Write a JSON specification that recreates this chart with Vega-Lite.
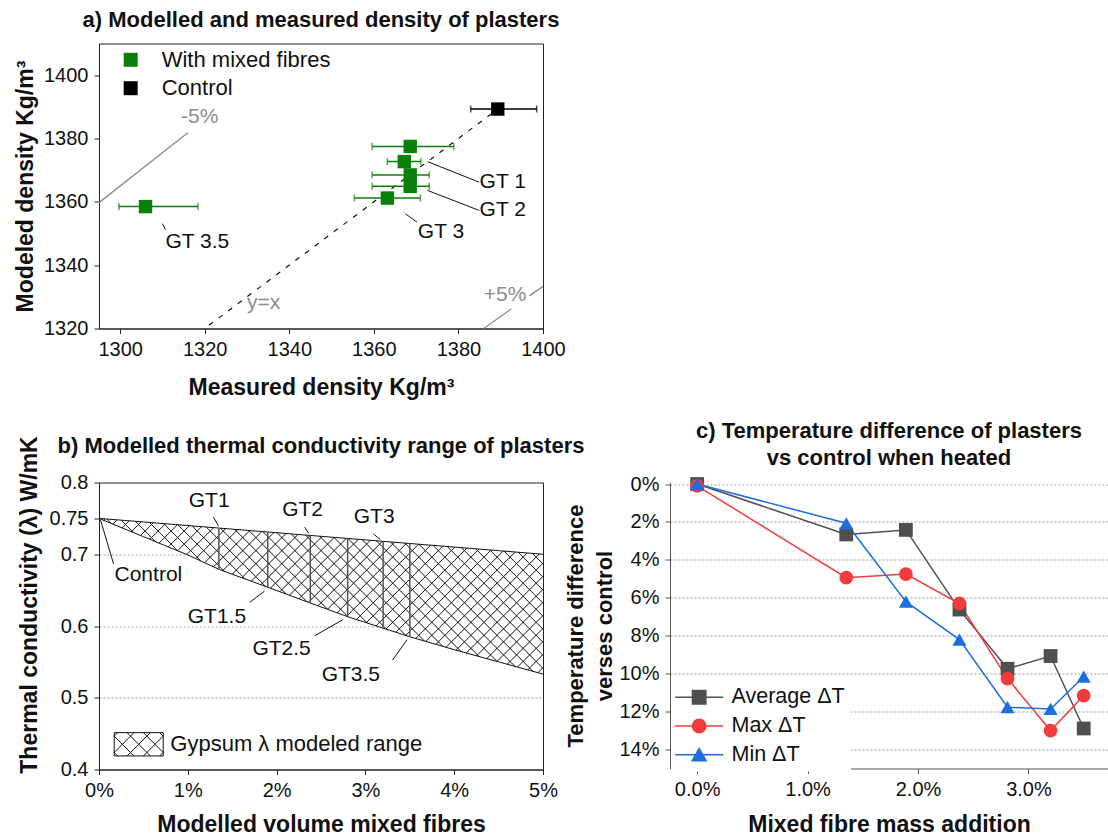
{
  "$schema": "https://vega.github.io/schema/vega-lite/v6.json",
  "background": "white",
  "padding": {"left": 13, "top": 8.5, "right": 0, "bottom": 0},
  "config": {
    "font": "Liberation Sans",
    "view": {"stroke": "#222", "strokeWidth": 1},
    "axis": {"labelFont": "Liberation Sans", "labelFontSize": 20, "labelColor": "#111", "titleFont": "Liberation Sans", "titleFontSize": 23, "titleFontWeight": "bold", "titleColor": "#111", "domainColor": "#222", "tickColor": "#222", "tickSize": 5, "labelPadding": 6, "grid": false, "labelFlush": false, "labelOverlap": false},
    "title": {"font": "Liberation Sans", "fontSize": 22, "fontWeight": "bold", "color": "#111", "baseline": "bottom"},
    "legend": {"labelFont": "Liberation Sans", "labelFontSize": 22, "labelColor": "#111", "labelLimit": 400}
  },
  "datasets": {
    "density": [
      {"group": "With mixed fibres", "measured": 1368.6, "modeled": 1377.5, "lo": 1359.6, "hi": 1378.9},
      {"group": "With mixed fibres", "measured": 1367.2, "modeled": 1372.7, "lo": 1363.2, "hi": 1371.1},
      {"group": "With mixed fibres", "measured": 1368.6, "modeled": 1368.5, "lo": 1359.6, "hi": 1373.1},
      {"group": "With mixed fibres", "measured": 1368.6, "modeled": 1364.9, "lo": 1359.6, "hi": 1373.1},
      {"group": "With mixed fibres", "measured": 1363.2, "modeled": 1361.2, "lo": 1355.4, "hi": 1371.0},
      {"group": "With mixed fibres", "measured": 1306.0, "modeled": 1358.5, "lo": 1299.7, "hi": 1318.4},
      {"group": "Control", "measured": 1389.3, "modeled": 1389.3, "lo": 1382.9, "hi": 1398.5}
    ],
    "densityLines": [
      {"kind": "y=x", "measured": 1321, "modeled": 1321, "measured2": 1388, "modeled2": 1388},
      {"kind": "-5%", "measured": 1295, "modeled": 1359.75, "measured2": 1316, "modeled2": 1381.8},
      {"kind": "+5%", "measured": 1386.0, "modeled": 1320, "measured2": 1392.5, "modeled2": 1326.2},
      {"kind": "+5%", "measured": 1396.8, "modeled": 1330.3, "measured2": 1400, "modeled2": 1333.3},
      {"kind": "leader", "measured": 1372.7, "modeled": 1372.7, "measured2": 1384.9, "modeled2": 1366.2},
      {"kind": "leader", "measured": 1372.7, "modeled": 1363.6, "measured2": 1384.9, "modeled2": 1357.3},
      {"kind": "leader", "measured": 1367.5, "modeled": 1356.2, "measured2": 1370.2, "modeled2": 1353.6},
      {"kind": "leader", "measured": 1310.0, "modeled": 1353.1, "measured2": 1310.7, "modeled2": 1351.2}
    ],
    "densityLabels": [
      {"text": "GT 1", "kind": "sample", "measured": 1385.0, "modeled": 1366.2},
      {"text": "GT 2", "kind": "sample", "measured": 1385.0, "modeled": 1357.3},
      {"text": "GT 3", "kind": "sample", "measured": 1370.4, "modeled": 1350.4},
      {"text": "GT 3.5", "kind": "sample", "measured": 1310.7, "modeled": 1347.3},
      {"text": "-5%", "kind": "guide", "measured": 1314.4, "modeled": 1386.7},
      {"text": "+5%", "kind": "guide", "measured": 1386.0, "modeled": 1330.5},
      {"text": "y=x", "kind": "guide", "measured": 1330.0, "modeled": 1327.9}
    ],
    "conductivity": [
      {"x": 0, "lower": 0.75, "upper": 0.75},
      {"x": 0.005, "lower": 0.7245, "upper": 0.745},
      {"x": 0.01, "lower": 0.699, "upper": 0.74},
      {"x": 0.0135, "lower": 0.679, "upper": 0.7365, "sample": "GT1"},
      {"x": 0.019, "lower": 0.654, "upper": 0.731, "sample": "GT1.5"},
      {"x": 0.0238, "lower": 0.632, "upper": 0.7262, "sample": "GT2"},
      {"x": 0.028, "lower": 0.613, "upper": 0.722, "sample": "GT2.5"},
      {"x": 0.032, "lower": 0.597, "upper": 0.718, "sample": "GT3"},
      {"x": 0.035, "lower": 0.585, "upper": 0.715, "sample": "GT3.5"},
      {"x": 0.04, "lower": 0.567, "upper": 0.71},
      {"x": 0.045, "lower": 0.55, "upper": 0.705},
      {"x": 0.05, "lower": 0.533, "upper": 0.70}
    ],
    "condLeaders": [
      {"x": 0.01289, "y": 0.7516, "x2": 0.01345, "y2": 0.7395},
      {"x": 0.02315, "y": 0.7377, "x2": 0.02362, "y2": 0.7293},
      {"x": 0.0309, "y": 0.7284, "x2": 0.03168, "y2": 0.7205},
      {"x": 0.00017, "y": 0.7479, "x2": 0.00164, "y2": 0.6865},
      {"x": 0.01698, "y": 0.633, "x2": 0.01862, "y2": 0.6484},
      {"x": 0.02431, "y": 0.5865, "x2": 0.02746, "y2": 0.6088},
      {"x": 0.03306, "y": 0.5526, "x2": 0.0347, "y2": 0.5809}
    ],
    "condLabels": [
      {"text": "GT1", "x": 0.01241, "y": 0.7749},
      {"text": "GT2", "x": 0.02293, "y": 0.7619},
      {"text": "GT3", "x": 0.03099, "y": 0.7526},
      {"text": "Control", "x": 0.00556, "y": 0.6712},
      {"text": "GT1.5", "x": 0.01328, "y": 0.613},
      {"text": "GT2.5", "x": 0.02056, "y": 0.5679},
      {"text": "GT3.5", "x": 0.02836, "y": 0.532}
    ],
    "tempdiff": [
      {"series": "Average ΔT", "mass": 0, "dT": 0},
      {"series": "Average ΔT", "mass": 0.0135, "dT": 0.0266},
      {"series": "Average ΔT", "mass": 0.0189, "dT": 0.0242},
      {"series": "Average ΔT", "mass": 0.02375, "dT": 0.0662},
      {"series": "Average ΔT", "mass": 0.0281, "dT": 0.0974},
      {"series": "Average ΔT", "mass": 0.032, "dT": 0.0907},
      {"series": "Average ΔT", "mass": 0.035, "dT": 0.1289},
      {"series": "Max ΔT", "mass": 0, "dT": 0.001},
      {"series": "Max ΔT", "mass": 0.0135, "dT": 0.0494},
      {"series": "Max ΔT", "mass": 0.0189, "dT": 0.0475},
      {"series": "Max ΔT", "mass": 0.02375, "dT": 0.063},
      {"series": "Max ΔT", "mass": 0.0281, "dT": 0.1026},
      {"series": "Max ΔT", "mass": 0.032, "dT": 0.130},
      {"series": "Max ΔT", "mass": 0.035, "dT": 0.1116},
      {"series": "Min ΔT", "mass": 0, "dT": 0},
      {"series": "Min ΔT", "mass": 0.0135, "dT": 0.0207},
      {"series": "Min ΔT", "mass": 0.0189, "dT": 0.062},
      {"series": "Min ΔT", "mass": 0.02375, "dT": 0.082},
      {"series": "Min ΔT", "mass": 0.0281, "dT": 0.1177},
      {"series": "Min ΔT", "mass": 0.032, "dT": 0.1186},
      {"series": "Min ΔT", "mass": 0.035, "dT": 0.1016}
    ]
  },
  "bounds": "flush",
  "spacing": 154,
  "resolve": {"scale": {"color": "independent", "shape": "independent", "stroke": "independent"}, "legend": {"color": "independent", "shape": "independent", "stroke": "independent"}},
  "vconcat": [
    {
      "width": 444,
      "height": 285,
      "title": {"text": "a) Modelled and measured density of plasters", "offset": 11.5},
      "encoding": {
        "x": {"field": "measured", "type": "quantitative", "scale": {"domain": [1295, 1400]},
              "axis": {"values": [1300, 1320, 1340, 1360, 1380, 1400], "format": "d", "title": "Measured density Kg/m³", "titleY": 48}},
        "y": {"field": "modeled", "type": "quantitative", "scale": {"domain": [1320, 1410]},
              "axis": {"values": [1320, 1340, 1360, 1380, 1400], "format": "d", "title": "Modeled density Kg/m³", "titleX": -62, "titleBaseline": "bottom"}}
      },
      "layer": [
        {
          "data": {"name": "densityLines"},
          "transform": [{"filter": "datum.kind === '-5%' || datum.kind === '+5%'"}],
          "mark": {"type": "rule", "color": "#8c8c8c", "strokeWidth": 1.3},
          "encoding": {"x2": {"field": "measured2"}, "y2": {"field": "modeled2"}}
        },
        {
          "data": {"name": "densityLines"},
          "transform": [{"filter": "datum.kind === 'y=x'"}],
          "mark": {"type": "rule", "color": "#111", "strokeWidth": 1.2, "strokeDash": [5, 7]},
          "encoding": {"x2": {"field": "measured2"}, "y2": {"field": "modeled2"}}
        },
        {
          "data": {"name": "densityLines"},
          "transform": [{"filter": "datum.kind === 'leader'"}],
          "mark": {"type": "rule", "color": "#111", "strokeWidth": 1},
          "encoding": {"x2": {"field": "measured2"}, "y2": {"field": "modeled2"}}
        },
        {
          "data": {"name": "density"},
          "mark": {"type": "errorbar", "ticks": true, "size": 7, "thickness": 1.5},
          "encoding": {
            "x": {"field": "lo", "type": "quantitative"},
            "x2": {"field": "hi"},
            "color": {"field": "group", "type": "nominal"}
          }
        },
        {
          "data": {"name": "density"},
          "mark": {"type": "square", "size": 180, "opacity": 1},
          "encoding": {
            "color": {"field": "group", "type": "nominal",
                      "scale": {"domain": ["With mixed fibres", "Control"], "range": ["#0a800a", "#000000"]},
                      "legend": {"title": null, "orient": "none", "legendX": 20.7, "legendY": 5.3, "padding": 0, "symbolType": "square", "symbolSize": 196, "labelFontSize": 22, "labelOffset": 20, "rowPadding": 6.4,
                                 "encoding": {"symbols": {"shape": {"value": "square"}, "strokeWidth": {"value": 0}, "opacity": {"value": 1}}}}}
          }
        },
        {
          "data": {"name": "densityLabels"},
          "transform": [{"filter": "datum.kind === 'sample'"}],
          "mark": {"type": "text", "align": "left", "baseline": "middle", "fontSize": 21, "color": "#111"},
          "encoding": {"text": {"field": "text"}}
        },
        {
          "data": {"name": "densityLabels"},
          "transform": [{"filter": "datum.kind === 'guide'"}],
          "mark": {"type": "text", "align": "left", "baseline": "middle", "fontSize": 21, "color": "#8c8c8c"},
          "encoding": {"text": {"field": "text"}}
        }
      ]
    },
    {
      "bounds": "flush",
      "spacing": 127,
      "resolve": {"scale": {"color": "independent", "shape": "independent", "stroke": "independent"}, "legend": {"color": "independent", "shape": "independent", "stroke": "independent"}},
      "hconcat": [
        {
          "width": 444,
          "height": 287,
          "title": {"text": "b) Modelled thermal conductivity range of plasters", "offset": -25.5},
          "encoding": {
            "x": {"field": "x", "type": "quantitative", "scale": {"domain": [0, 0.05]},
                  "axis": {"values": [0, 0.01, 0.02, 0.03, 0.04, 0.05], "format": ".0%", "title": "Modelled volume mixed fibres", "titleY": 44}},
            "y": {"field": "lower", "type": "quantitative", "scale": {"domain": [0.4, 0.8]},
                  "axis": {"values": [0.4, 0.5, 0.6, 0.7, 0.75, 0.8], "format": ".2~f", "title": "Thermal conductivity (λ)  W/mK", "titleX": -58, "titleY": 122, "titleBaseline": "bottom",
                           "grid": true, "gridDash": [2, 2], "gridColor": {"condition": {"test": "datum.value === 0.75", "value": "transparent"}, "value": "#999"}}}
          },
          "layer": [
            {
              "data": {"values": [{}]},
              "mark": {"type": "rule", "color": "#f5c8c8", "strokeWidth": 1},
              "encoding": {"x": {"datum": 0}, "x2": {"datum": 0.05}, "y": {"datum": 0.533}}
            },
            {
              "data": {"name": "conductivity"},
              "mark": {"type": "area"},
              "encoding": {
                "y2": {"field": "upper"},
                "color": {"datum": "Gypsum λ modeled range", "scale": {"range": ["#ffffff"]},
                          "legend": {"title": null, "orient": "none", "legendX": 14.7, "legendY": 236.8, "padding": 0, "symbolSize": 2401, "labelFontSize": 22, "labelOffset": 6.6, "labelLimit": 400,
                                     "symbolType": "M-1,-0.4755H1V0.4755H-1Z M-1,0.333L-0.858,0.4755 M-1,-0.333L-0.191,0.4755 M-0.4755,-0.4755L0.4755,0.4755 M0.191,-0.4755L1,0.333 M0.858,-0.4755L1,-0.333 M-1,-0.333L-0.858,-0.4755 M-1,0.333L-0.191,-0.4755 M-0.4755,0.4755L0.4755,-0.4755 M0.191,0.4755L1,-0.333 M0.858,0.4755L1,0.333",
                                     "encoding": {"symbols": {"fill": {"value": "#ffffff"}, "stroke": {"value": "#111"}, "strokeWidth": {"value": 1}, "opacity": {"value": 1}}}}}
              }
            },
            {
              "data": {"name": "conductivity"},
              "mark": {"type": "area", "stroke": null, "fill": {"gradient": "linear", "x1": 0, "y1": 0, "x2": 1.2028, "y2": 0.4218, "stops": [
                {"offset": 0, "color": "transparent"},
                {"offset": 0.0092, "color": "transparent"}, {"offset": 0.0109, "color": "#222"}, {"offset": 0.0126, "color": "transparent"},
                {"offset": 0.0309, "color": "transparent"}, {"offset": 0.0326, "color": "#222"}, {"offset": 0.0343, "color": "transparent"},
                {"offset": 0.0527, "color": "transparent"}, {"offset": 0.0544, "color": "#222"}, {"offset": 0.0561, "color": "transparent"},
                {"offset": 0.0744, "color": "transparent"}, {"offset": 0.0761, "color": "#222"}, {"offset": 0.0778, "color": "transparent"},
                {"offset": 0.0961, "color": "transparent"}, {"offset": 0.0978, "color": "#222"}, {"offset": 0.0995, "color": "transparent"},
                {"offset": 0.1179, "color": "transparent"}, {"offset": 0.1196, "color": "#222"}, {"offset": 0.1213, "color": "transparent"},
                {"offset": 0.1396, "color": "transparent"}, {"offset": 0.1413, "color": "#222"}, {"offset": 0.1430, "color": "transparent"},
                {"offset": 0.1613, "color": "transparent"}, {"offset": 0.1630, "color": "#222"}, {"offset": 0.1647, "color": "transparent"},
                {"offset": 0.1831, "color": "transparent"}, {"offset": 0.1848, "color": "#222"}, {"offset": 0.1865, "color": "transparent"},
                {"offset": 0.2048, "color": "transparent"}, {"offset": 0.2065, "color": "#222"}, {"offset": 0.2082, "color": "transparent"},
                {"offset": 0.2266, "color": "transparent"}, {"offset": 0.2283, "color": "#222"}, {"offset": 0.2300, "color": "transparent"},
                {"offset": 0.2483, "color": "transparent"}, {"offset": 0.2500, "color": "#222"}, {"offset": 0.2517, "color": "transparent"},
                {"offset": 0.2700, "color": "transparent"}, {"offset": 0.2717, "color": "#222"}, {"offset": 0.2734, "color": "transparent"},
                {"offset": 0.2918, "color": "transparent"}, {"offset": 0.2935, "color": "#222"}, {"offset": 0.2952, "color": "transparent"},
                {"offset": 0.3135, "color": "transparent"}, {"offset": 0.3152, "color": "#222"}, {"offset": 0.3169, "color": "transparent"},
                {"offset": 0.3353, "color": "transparent"}, {"offset": 0.3370, "color": "#222"}, {"offset": 0.3387, "color": "transparent"},
                {"offset": 0.3570, "color": "transparent"}, {"offset": 0.3587, "color": "#222"}, {"offset": 0.3604, "color": "transparent"},
                {"offset": 0.3787, "color": "transparent"}, {"offset": 0.3804, "color": "#222"}, {"offset": 0.3821, "color": "transparent"},
                {"offset": 0.4005, "color": "transparent"}, {"offset": 0.4022, "color": "#222"}, {"offset": 0.4039, "color": "transparent"},
                {"offset": 0.4222, "color": "transparent"}, {"offset": 0.4239, "color": "#222"}, {"offset": 0.4256, "color": "transparent"},
                {"offset": 0.4440, "color": "transparent"}, {"offset": 0.4457, "color": "#222"}, {"offset": 0.4474, "color": "transparent"},
                {"offset": 0.4657, "color": "transparent"}, {"offset": 0.4674, "color": "#222"}, {"offset": 0.4691, "color": "transparent"},
                {"offset": 0.4874, "color": "transparent"}, {"offset": 0.4891, "color": "#222"}, {"offset": 0.4908, "color": "transparent"},
                {"offset": 0.5092, "color": "transparent"}, {"offset": 0.5109, "color": "#222"}, {"offset": 0.5126, "color": "transparent"},
                {"offset": 0.5309, "color": "transparent"}, {"offset": 0.5326, "color": "#222"}, {"offset": 0.5343, "color": "transparent"},
                {"offset": 0.5526, "color": "transparent"}, {"offset": 0.5543, "color": "#222"}, {"offset": 0.5560, "color": "transparent"},
                {"offset": 0.5744, "color": "transparent"}, {"offset": 0.5761, "color": "#222"}, {"offset": 0.5778, "color": "transparent"},
                {"offset": 0.5961, "color": "transparent"}, {"offset": 0.5978, "color": "#222"}, {"offset": 0.5995, "color": "transparent"},
                {"offset": 0.6179, "color": "transparent"}, {"offset": 0.6196, "color": "#222"}, {"offset": 0.6213, "color": "transparent"},
                {"offset": 0.6396, "color": "transparent"}, {"offset": 0.6413, "color": "#222"}, {"offset": 0.6430, "color": "transparent"},
                {"offset": 0.6613, "color": "transparent"}, {"offset": 0.6630, "color": "#222"}, {"offset": 0.6647, "color": "transparent"},
                {"offset": 0.6831, "color": "transparent"}, {"offset": 0.6848, "color": "#222"}, {"offset": 0.6865, "color": "transparent"},
                {"offset": 0.7048, "color": "transparent"}, {"offset": 0.7065, "color": "#222"}, {"offset": 0.7082, "color": "transparent"},
                {"offset": 0.7266, "color": "transparent"}, {"offset": 0.7283, "color": "#222"}, {"offset": 0.7300, "color": "transparent"},
                {"offset": 0.7483, "color": "transparent"}, {"offset": 0.7500, "color": "#222"}, {"offset": 0.7517, "color": "transparent"},
                {"offset": 0.7700, "color": "transparent"}, {"offset": 0.7717, "color": "#222"}, {"offset": 0.7734, "color": "transparent"},
                {"offset": 0.7918, "color": "transparent"}, {"offset": 0.7935, "color": "#222"}, {"offset": 0.7952, "color": "transparent"},
                {"offset": 0.8135, "color": "transparent"}, {"offset": 0.8152, "color": "#222"}, {"offset": 0.8169, "color": "transparent"},
                {"offset": 0.8353, "color": "transparent"}, {"offset": 0.8370, "color": "#222"}, {"offset": 0.8387, "color": "transparent"},
                {"offset": 0.8570, "color": "transparent"}, {"offset": 0.8587, "color": "#222"}, {"offset": 0.8604, "color": "transparent"},
                {"offset": 0.8787, "color": "transparent"}, {"offset": 0.8804, "color": "#222"}, {"offset": 0.8821, "color": "transparent"},
                {"offset": 0.9005, "color": "transparent"}, {"offset": 0.9022, "color": "#222"}, {"offset": 0.9039, "color": "transparent"},
                {"offset": 0.9222, "color": "transparent"}, {"offset": 0.9239, "color": "#222"}, {"offset": 0.9256, "color": "transparent"},
                {"offset": 0.9440, "color": "transparent"}, {"offset": 0.9457, "color": "#222"}, {"offset": 0.9474, "color": "transparent"},
                {"offset": 0.9657, "color": "transparent"}, {"offset": 0.9674, "color": "#222"}, {"offset": 0.9691, "color": "transparent"},
                {"offset": 0.9874, "color": "transparent"}, {"offset": 0.9891, "color": "#222"}, {"offset": 0.9908, "color": "transparent"},
                {"offset": 1, "color": "transparent"}]}},
              "encoding": {"y2": {"field": "upper"}}
            },
            {
              "data": {"name": "conductivity"},
              "mark": {"type": "area", "stroke": null, "fill": {"gradient": "linear", "x1": 0, "y1": 1, "x2": 1.2028, "y2": 0.5782, "stops": [
                {"offset": 0, "color": "transparent"},
                {"offset": 0.0092, "color": "transparent"}, {"offset": 0.0109, "color": "#222"}, {"offset": 0.0126, "color": "transparent"},
                {"offset": 0.0309, "color": "transparent"}, {"offset": 0.0326, "color": "#222"}, {"offset": 0.0343, "color": "transparent"},
                {"offset": 0.0527, "color": "transparent"}, {"offset": 0.0544, "color": "#222"}, {"offset": 0.0561, "color": "transparent"},
                {"offset": 0.0744, "color": "transparent"}, {"offset": 0.0761, "color": "#222"}, {"offset": 0.0778, "color": "transparent"},
                {"offset": 0.0961, "color": "transparent"}, {"offset": 0.0978, "color": "#222"}, {"offset": 0.0995, "color": "transparent"},
                {"offset": 0.1179, "color": "transparent"}, {"offset": 0.1196, "color": "#222"}, {"offset": 0.1213, "color": "transparent"},
                {"offset": 0.1396, "color": "transparent"}, {"offset": 0.1413, "color": "#222"}, {"offset": 0.1430, "color": "transparent"},
                {"offset": 0.1613, "color": "transparent"}, {"offset": 0.1630, "color": "#222"}, {"offset": 0.1647, "color": "transparent"},
                {"offset": 0.1831, "color": "transparent"}, {"offset": 0.1848, "color": "#222"}, {"offset": 0.1865, "color": "transparent"},
                {"offset": 0.2048, "color": "transparent"}, {"offset": 0.2065, "color": "#222"}, {"offset": 0.2082, "color": "transparent"},
                {"offset": 0.2266, "color": "transparent"}, {"offset": 0.2283, "color": "#222"}, {"offset": 0.2300, "color": "transparent"},
                {"offset": 0.2483, "color": "transparent"}, {"offset": 0.2500, "color": "#222"}, {"offset": 0.2517, "color": "transparent"},
                {"offset": 0.2700, "color": "transparent"}, {"offset": 0.2717, "color": "#222"}, {"offset": 0.2734, "color": "transparent"},
                {"offset": 0.2918, "color": "transparent"}, {"offset": 0.2935, "color": "#222"}, {"offset": 0.2952, "color": "transparent"},
                {"offset": 0.3135, "color": "transparent"}, {"offset": 0.3152, "color": "#222"}, {"offset": 0.3169, "color": "transparent"},
                {"offset": 0.3353, "color": "transparent"}, {"offset": 0.3370, "color": "#222"}, {"offset": 0.3387, "color": "transparent"},
                {"offset": 0.3570, "color": "transparent"}, {"offset": 0.3587, "color": "#222"}, {"offset": 0.3604, "color": "transparent"},
                {"offset": 0.3787, "color": "transparent"}, {"offset": 0.3804, "color": "#222"}, {"offset": 0.3821, "color": "transparent"},
                {"offset": 0.4005, "color": "transparent"}, {"offset": 0.4022, "color": "#222"}, {"offset": 0.4039, "color": "transparent"},
                {"offset": 0.4222, "color": "transparent"}, {"offset": 0.4239, "color": "#222"}, {"offset": 0.4256, "color": "transparent"},
                {"offset": 0.4440, "color": "transparent"}, {"offset": 0.4457, "color": "#222"}, {"offset": 0.4474, "color": "transparent"},
                {"offset": 0.4657, "color": "transparent"}, {"offset": 0.4674, "color": "#222"}, {"offset": 0.4691, "color": "transparent"},
                {"offset": 0.4874, "color": "transparent"}, {"offset": 0.4891, "color": "#222"}, {"offset": 0.4908, "color": "transparent"},
                {"offset": 0.5092, "color": "transparent"}, {"offset": 0.5109, "color": "#222"}, {"offset": 0.5126, "color": "transparent"},
                {"offset": 0.5309, "color": "transparent"}, {"offset": 0.5326, "color": "#222"}, {"offset": 0.5343, "color": "transparent"},
                {"offset": 0.5526, "color": "transparent"}, {"offset": 0.5543, "color": "#222"}, {"offset": 0.5560, "color": "transparent"},
                {"offset": 0.5744, "color": "transparent"}, {"offset": 0.5761, "color": "#222"}, {"offset": 0.5778, "color": "transparent"},
                {"offset": 0.5961, "color": "transparent"}, {"offset": 0.5978, "color": "#222"}, {"offset": 0.5995, "color": "transparent"},
                {"offset": 0.6179, "color": "transparent"}, {"offset": 0.6196, "color": "#222"}, {"offset": 0.6213, "color": "transparent"},
                {"offset": 0.6396, "color": "transparent"}, {"offset": 0.6413, "color": "#222"}, {"offset": 0.6430, "color": "transparent"},
                {"offset": 0.6613, "color": "transparent"}, {"offset": 0.6630, "color": "#222"}, {"offset": 0.6647, "color": "transparent"},
                {"offset": 0.6831, "color": "transparent"}, {"offset": 0.6848, "color": "#222"}, {"offset": 0.6865, "color": "transparent"},
                {"offset": 0.7048, "color": "transparent"}, {"offset": 0.7065, "color": "#222"}, {"offset": 0.7082, "color": "transparent"},
                {"offset": 0.7266, "color": "transparent"}, {"offset": 0.7283, "color": "#222"}, {"offset": 0.7300, "color": "transparent"},
                {"offset": 0.7483, "color": "transparent"}, {"offset": 0.7500, "color": "#222"}, {"offset": 0.7517, "color": "transparent"},
                {"offset": 0.7700, "color": "transparent"}, {"offset": 0.7717, "color": "#222"}, {"offset": 0.7734, "color": "transparent"},
                {"offset": 0.7918, "color": "transparent"}, {"offset": 0.7935, "color": "#222"}, {"offset": 0.7952, "color": "transparent"},
                {"offset": 0.8135, "color": "transparent"}, {"offset": 0.8152, "color": "#222"}, {"offset": 0.8169, "color": "transparent"},
                {"offset": 0.8353, "color": "transparent"}, {"offset": 0.8370, "color": "#222"}, {"offset": 0.8387, "color": "transparent"},
                {"offset": 0.8570, "color": "transparent"}, {"offset": 0.8587, "color": "#222"}, {"offset": 0.8604, "color": "transparent"},
                {"offset": 0.8787, "color": "transparent"}, {"offset": 0.8804, "color": "#222"}, {"offset": 0.8821, "color": "transparent"},
                {"offset": 0.9005, "color": "transparent"}, {"offset": 0.9022, "color": "#222"}, {"offset": 0.9039, "color": "transparent"},
                {"offset": 0.9222, "color": "transparent"}, {"offset": 0.9239, "color": "#222"}, {"offset": 0.9256, "color": "transparent"},
                {"offset": 0.9440, "color": "transparent"}, {"offset": 0.9457, "color": "#222"}, {"offset": 0.9474, "color": "transparent"},
                {"offset": 0.9657, "color": "transparent"}, {"offset": 0.9674, "color": "#222"}, {"offset": 0.9691, "color": "transparent"},
                {"offset": 0.9874, "color": "transparent"}, {"offset": 0.9891, "color": "#222"}, {"offset": 0.9908, "color": "transparent"},
                {"offset": 1, "color": "transparent"}]}},
              "encoding": {"y2": {"field": "upper"}}
            },
            {
              "data": {"name": "conductivity"},
              "mark": {"type": "line", "color": "#111", "strokeWidth": 1},
              "encoding": {"y": {"field": "upper", "type": "quantitative"}}
            },
            {
              "data": {"name": "conductivity"},
              "mark": {"type": "line", "color": "#111", "strokeWidth": 1},
              "encoding": {}
            },
            {
              "data": {"name": "conductivity"},
              "transform": [{"filter": "datum.sample != null"}],
              "mark": {"type": "rule", "color": "#555", "strokeWidth": 1.5},
              "encoding": {"y2": {"field": "upper"}}
            },
            {
              "data": {"name": "condLeaders"},
              "mark": {"type": "rule", "color": "#111", "strokeWidth": 1},
              "encoding": {"y": {"field": "y", "type": "quantitative"}, "x2": {"field": "x2"}, "y2": {"field": "y2"}}
            },
            {
              "data": {"name": "condLabels"},
              "mark": {"type": "text", "align": "center", "baseline": "middle", "fontSize": 21, "color": "#111"},
              "encoding": {"y": {"field": "y", "type": "quantitative"}, "text": {"field": "text"}}
            }
          ]
        },
        {
          "width": 438,
          "height": 286,
          "view": {"stroke": null},
          "title": {"text": ["c) Temperature difference of plasters", "vs control when heated"], "offset": 4.5, "lineHeight": 27},
          "encoding": {
            "x": {"field": "mass", "type": "quantitative", "scale": {"domain": [-0.00246, 0.0372]},
                  "axis": {"values": [0, 0.01, 0.02, 0.03], "format": ".1%", "title": "Mixed fibre mass addition", "titleY": 45, "domainColor": "#555", "tickColor": "#555"}},
            "y": {"field": "dT", "type": "quantitative", "scale": {"domain": [-0.0008, 0.15], "reverse": true},
                  "axis": {"values": [0, 0.02, 0.04, 0.06, 0.08, 0.10, 0.12, 0.14], "format": ".0%", "title": ["Temperature difference", "verses control"],
                           "titleFontSize": 22, "titleX": -82.5, "titleBaseline": "bottom", "titleLineHeight": 29,
                           "domainColor": "#555", "tickColor": "#555", "grid": true, "gridDash": [2, 2], "gridColor": "#9a9a9a"}}
          },
          "layer": [
            {
              "data": {"values": [{}]},
              "mark": {"type": "rule", "color": "#555", "strokeWidth": 1},
              "encoding": {"x": {"datum": -0.00246}, "x2": {"datum": 0.0372}, "y": {"datum": -0.0008}}
            },
            {
              "data": {"name": "tempdiff"},
              "mark": {"type": "line", "strokeWidth": 1.5},
              "encoding": {
                "color": {"field": "series", "type": "nominal",
                          "scale": {"domain": ["Average ΔT", "Max ΔT", "Min ΔT"], "range": ["#4f4f4f", "#f03c3c", "#1d6fe0"]},
                          "legend": {"title": null, "orient": "none", "legendX": 1, "legendY": 198, "padding": 6, "fillColor": "white", "symbolSize": 196, "labelFontSize": 21.5, "labelOffset": 33, "rowPadding": 5.7, "symbolOpacity": 1, "symbolStrokeWidth": 1.5}}
              }
            },
            {
              "data": {"name": "tempdiff"},
              "transform": [{"filter": "datum.series === 'Average ΔT'"}],
              "mark": {"type": "point", "shape": "square", "filled": true, "size": 190, "opacity": 1},
              "encoding": {
                "color": {"field": "series", "type": "nominal",
                          "legend": {"title": null, "orient": "none", "legendX": 1, "legendY": 198, "padding": 6, "fillColor": "white", "symbolSize": 196, "labelFontSize": 21.5, "labelOffset": 33, "rowPadding": 5.7, "symbolOpacity": 1, "symbolStrokeWidth": 1.5}}
              }
            },
            {
              "data": {"name": "tempdiff"},
              "transform": [{"filter": "datum.series === 'Max ΔT'"}],
              "mark": {"type": "point", "shape": "circle", "filled": true, "size": 190, "opacity": 1},
              "encoding": {
                "color": {"field": "series", "type": "nominal",
                          "legend": {"title": null, "orient": "none", "legendX": 1, "legendY": 198, "padding": 6, "fillColor": "white", "symbolSize": 196, "labelFontSize": 21.5, "labelOffset": 33, "rowPadding": 5.7, "symbolOpacity": 1, "symbolStrokeWidth": 1.5}}
              }
            },
            {
              "data": {"name": "tempdiff"},
              "transform": [{"filter": "datum.series === 'Min ΔT'"}],
              "mark": {"type": "point", "shape": "triangle-up", "filled": true, "size": 200, "opacity": 1},
              "encoding": {
                "color": {"field": "series", "type": "nominal",
                          "legend": {"title": null, "orient": "none", "legendX": 1, "legendY": 198, "padding": 6, "fillColor": "white", "symbolSize": 196, "labelFontSize": 21.5, "labelOffset": 33, "rowPadding": 5.7, "symbolOpacity": 1, "symbolStrokeWidth": 1.5}}
              }
            },
            {
              "data": {"name": "tempdiff"},
              "mark": {"type": "point", "filled": true, "opacity": 0, "strokeWidth": 1.5},
              "encoding": {
                "color": {"field": "series", "type": "nominal",
                          "legend": {"title": null, "orient": "none", "legendX": 1, "legendY": 198, "padding": 6, "fillColor": "white", "symbolSize": 196, "labelFontSize": 21.5, "labelOffset": 33, "rowPadding": 5.7, "symbolOpacity": 1, "symbolStrokeWidth": 1.5}},
                "stroke": {"field": "series", "type": "nominal",
                           "scale": {"domain": ["Average ΔT", "Max ΔT", "Min ΔT"], "range": ["#4f4f4f", "#f03c3c", "#1d6fe0"]},
                           "legend": {"title": null, "orient": "none", "legendX": 1, "legendY": 198, "padding": 6, "fillColor": "white", "symbolSize": 196, "labelFontSize": 21.5, "labelOffset": 33, "rowPadding": 5.7, "symbolOpacity": 1, "symbolStrokeWidth": 1.5}},
                "shape": {"field": "series", "type": "nominal",
                          "scale": {"domain": ["Average ΔT", "Max ΔT", "Min ΔT"], "range": ["M-1.8,0H5.06 M0.67,-0.96H2.59V0.96H0.67Z", "M-1.8,0H5.06 M0.67,0A0.96,0.96 0 1,0 2.59,0A0.96,0.96 0 1,0 0.67,0", "M-1.8,0H5.06 M1.63,-0.87L2.63,0.87H0.63Z"]},
                          "legend": {"title": null, "orient": "none", "legendX": 1, "legendY": 198, "padding": 6, "fillColor": "white", "symbolSize": 196, "labelFontSize": 21.5, "labelOffset": 33, "rowPadding": 5.7, "symbolOpacity": 1, "symbolStrokeWidth": 1.5}}
              }
            }
          ]
        }
      ]
    }
  ]
}
